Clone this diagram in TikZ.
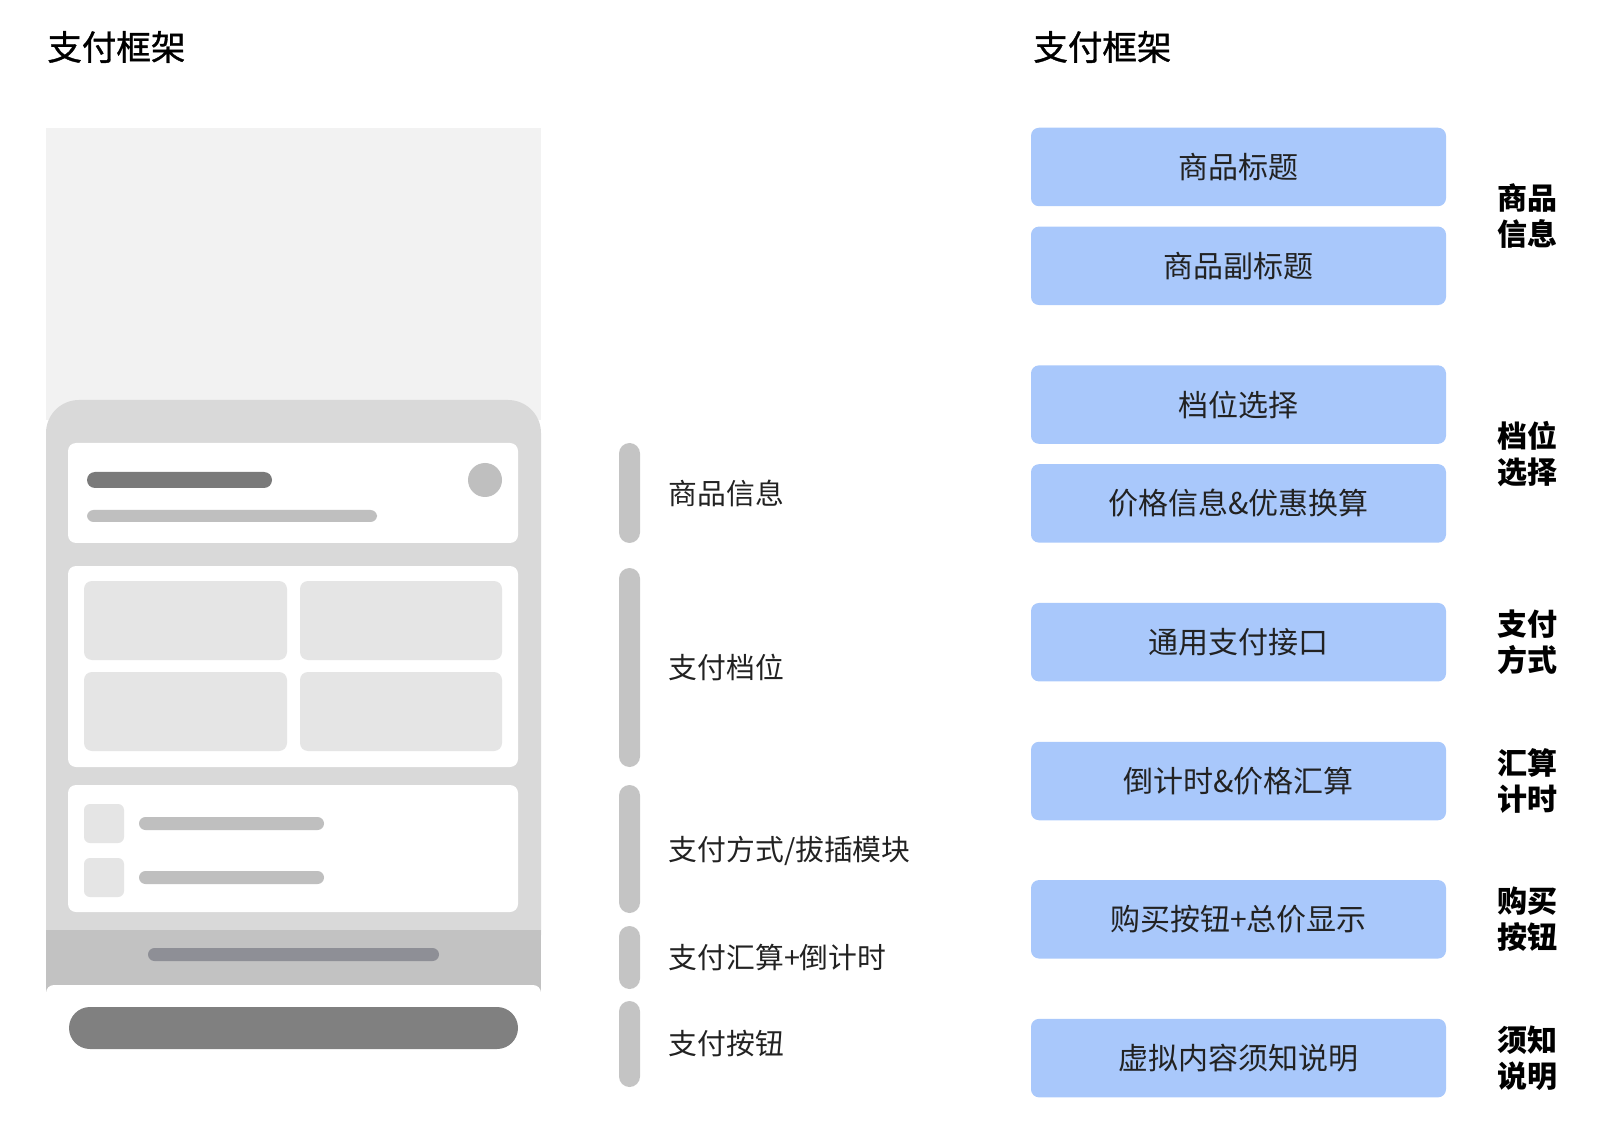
\documentclass[tikz,border=0pt]{standalone}
\usepackage{fontspec}
\setmainfont{Noto Sans CJK SC}
\newfontfamily\titlefont[FakeBold=1]{Noto Sans CJK SC}
\usetikzlibrary{positioning,calc}

\definecolor{boxblue}{HTML}{A9C8FB}
\definecolor{bargray}{HTML}{C4C4C4}
\definecolor{textgray}{HTML}{222222}
\definecolor{screenbg}{HTML}{F2F2F2}
\definecolor{panelgray}{HTML}{D9D9D9}
\definecolor{bandgray}{HTML}{C2C2C2}
\definecolor{tilegray}{HTML}{E5E5E5}
\definecolor{linegray}{HTML}{BFBFBF}
\definecolor{darkgray}{HTML}{7A7A7A}
\definecolor{btngray}{HTML}{808080}
\definecolor{handlegray}{HTML}{8E8F96}

\begin{document}
\begin{tikzpicture}[x=0.5pt, y=-0.5pt, node distance=10pt,
    heading/.style={anchor=west, inner sep=0pt, font=\titlefont\fontsize{17.25pt}{20pt}\selectfont},
    blockbox/.style={rectangle, rounded corners=4pt, fill=boxblue, minimum width=207.5pt, minimum height=39.25pt, inner sep=0pt, text=textgray, font=\fontsize{15pt}{18pt}\selectfont},
    grouplabel/.style={anchor=west, align=center, inner sep=0pt, font=\bfseries\fontsize{15pt}{18pt}\selectfont},
    sidebar/.style={rectangle, rounded corners=5.25pt, fill=bargray, minimum width=10.5pt, inner sep=0pt},
    sidelabel/.style={inner sep=0pt, text=textgray, font=\fontsize{14.4pt}{17pt}\selectfont},
    card/.style={fill=white, rounded corners=4pt},
    tile/.style={fill=tilegray, rounded corners=4pt},
    pill/.style={fill=linegray, rounded corners=3.25pt}]
  \useasboundingbox (0,0) rectangle (1600,1133);

  % titles
  \node[heading] (t1) at (47,47) {支付框架};
  \node[heading] (t2) at (1033,47) {支付框架};

  % phone mockup
  \fill[screenbg] (46,128) rectangle (541,420);
  \fill[panelgray] (46,935) [rounded corners=16.5pt] -- (46,400) -- (541,400) [sharp corners] -- (541,935) -- cycle;
  \fill[bandgray] (46,930) rectangle (541,992);
  \fill[handlegray, rounded corners=3.25pt] (148,948) rectangle (439,961);
  \fill[white, rounded corners=4pt] (46,985) rectangle (541,1097);
  \fill[btngray, rounded corners=10.5pt] (69,1007) rectangle (518,1049);

  \fill[card] (68,443) rectangle (518,543);
  \fill[darkgray, rounded corners=4pt] (87,472) rectangle (272,488);
  \fill[pill] (87,510) rectangle (377,522);
  \fill[linegray] (485,480) circle[radius=8.5pt];

  \fill[card] (68,566) rectangle (518,767);
  \foreach \x/\xx in {84/287, 300/502}
    \foreach \y/\yy in {581/660, 672/751}
      \fill[tile] (\x,\y) rectangle (\xx,\yy);

  \fill[card] (68,785) rectangle (518,912);
  \foreach \y in {804, 858} {
    \fill[tile, rounded corners=3pt] (84,\y) rectangle (124,\y+39);
    \fill[pill] (139,\y+13) rectangle (324,\y+26);
  }

  % module bars
  \node[sidebar, minimum height=50pt]   (s1) at (629.5,493) {};
  \node[sidebar, minimum height=99.5pt] (s2) at (629.5,667.5) {};
  \node[sidebar, minimum height=64pt]   (s3) at (629.5,849) {};
  \node[sidebar, minimum height=31.5pt] (s4) at (629.5,957.5) {};
  \node[sidebar, minimum height=43pt]   (s5) at (629.5,1044) {};

  \node[sidelabel, right=14pt of s1] (l1) {商品信息};
  \node[sidelabel, right=14pt of s2] (l2) {支付档位};
  \node[sidelabel, right=14pt of s3, yshift=-1pt] (l3) {支付方式/拔插模块};
  \node[sidelabel, right=14pt of s4] (l4) {支付汇算+倒计时};
  \node[sidelabel, right=14pt of s5] (l5) {支付按钮};

  % framework blocks
  \node[blockbox] (b1) at (1238.5,167) {商品标题};
  \node[blockbox] (b2) [below=9.75pt of b1] {商品副标题};
  \node[blockbox] (b3) [below=29.75pt of b2] {档位选择};
  \node[blockbox] (b4) [below=9.75pt of b3] {价格信息\&优惠换算};
  \node[blockbox] (b5) [below=29.75pt of b4] {通用支付接口};
  \node[blockbox] (b6) [below=29.75pt of b5] {倒计时\&价格汇算};
  \node[blockbox] (b7) [below=29.5pt of b6] {购买按钮+总价显示};
  \node[blockbox] (b8) [below=29.75pt of b7] {虚拟内容须知说明};

  \node[grouplabel] (g1) at ($(b1.east)!.5!(b2.east)+(51,0)$) {商品\\信息};
  \node[grouplabel] (g2) at ($(b3.east)!.5!(b4.east)+(51,0)$) {档位\\选择};
  \node[grouplabel] (g3) at ($(b5.east)+(51,0)$) {支付\\方式};
  \node[grouplabel] (g4) at ($(b6.east)+(51,0)$) {汇算\\计时};
  \node[grouplabel] (g5) at ($(b7.east)+(51,0)$) {购买\\按钮};
  \node[grouplabel] (g6) at ($(b8.east)+(51,0)$) {须知\\说明};
\end{tikzpicture}
\end{document}
